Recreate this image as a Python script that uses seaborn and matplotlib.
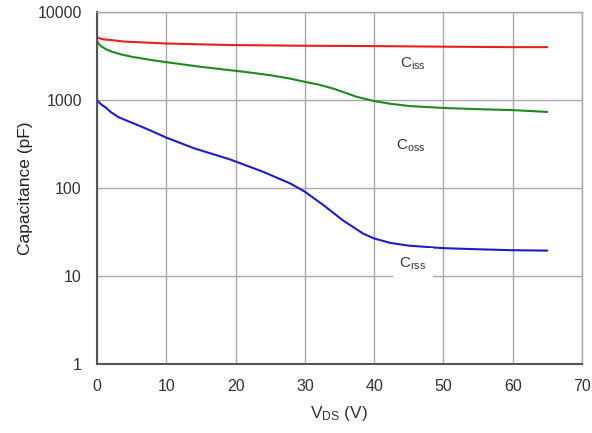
import matplotlib
matplotlib.use("Agg")
import matplotlib.pyplot as plt
import seaborn as sns
import pandas as pd

v_iss = [0, 0.5, 1, 2.2, 4, 7.9, 10, 15, 20, 30, 40, 50, 60, 65]
c_iss = [5150, 5000, 4900, 4800, 4620, 4480, 4400, 4300, 4220, 4150, 4110, 4050, 4000, 4000]

v_oss = [0, 0.3, 0.7, 1.3, 2.2, 3.5, 5.1, 7.9, 10, 14.8, 21.4, 25, 27.8, 30, 32, 34, 36, 37.5, 39.9, 42.3, 45.2, 50, 55, 60, 65]
c_oss = [4700, 4300, 4040, 3780, 3540, 3300, 3100, 2850, 2700, 2400, 2090, 1920, 1760, 1615, 1500, 1360, 1200, 1090, 980, 910, 855, 815, 790, 770, 735]

v_rss = [0, 0.3, 0.7, 1.2, 2, 3.1, 4.5, 5.5, 7.9, 10, 14.1, 19.2, 24, 27.9, 30, 32.7, 35.5, 38.4, 40, 42.3, 45, 50, 55, 60, 65]
c_rss = [1000, 940, 880, 830, 730, 640, 575, 535, 445, 375, 282, 212, 153, 113, 91, 64, 43, 30.5, 26.8, 23.9, 22.2, 20.8, 20.2, 19.7, 19.5]

x_ticks = [0, 10, 20, 30, 40, 50, 60, 70]
y_ticks = [1, 10, 100, 1000, 10000]
y_tick_labels = ["1", "10", "100", "1000", "10000"]

sns.set_style("white")
plt.rcParams["font.family"] = ["Liberation Sans", "DejaVu Sans"]
plt.rcParams["mathtext.fontset"] = "custom"
plt.rcParams["mathtext.rm"] = "Liberation Sans"
plt.rcParams["mathtext.it"] = "Liberation Sans"

fig = plt.figure(figsize=(5.92, 4.33), dpi=100)
ax = fig.add_axes([0.164, 0.159, 0.819, 0.813])

df_iss = pd.DataFrame({"V": v_iss, "C": c_iss})
df_oss = pd.DataFrame({"V": v_oss, "C": c_oss})
df_rss = pd.DataFrame({"V": v_rss, "C": c_rss})

sns.lineplot(data=df_iss, x="V", y="C", ax=ax, color="#e8201c", lw=1.5)
sns.lineplot(data=df_oss, x="V", y="C", ax=ax, color="#1e8a1e", lw=1.5)
sns.lineplot(data=df_rss, x="V", y="C", ax=ax, color="#1c1cc8", lw=1.5)

ax.set_yscale("log")
ax.set_xlim(0, 70)
ax.set_ylim(1, 10000)
ax.set_xticks(x_ticks)
ax.set_yticks(y_ticks)
ax.set_yticklabels(y_tick_labels)
ax.minorticks_off()
ax.grid(True, color="#a8a8a8", lw=1.0)
ax.set_axisbelow(True)
for s in ["top", "right"]:
    ax.spines[s].set_color("#a8a8a8")
    ax.spines[s].set_linewidth(1.0)
for s in ["left", "bottom"]:
    ax.spines[s].set_color("#555555")
    ax.spines[s].set_linewidth(1.5)
ax.tick_params(length=0, pad=11, labelsize=11.5, labelcolor="#333333")

ax.set_xlabel("V$_{\\rm DS}$ (V)", fontsize=12.5, color="#333333", labelpad=7)
ax.set_ylabel("Capacitance (pF)", fontsize=12.5, color="#222222", labelpad=3)

ax.text(45.6, 2600, "C$_{\\rm iss}$", fontsize=11, color="#333333", ha="center", va="center")
ax.text(45.3, 306, "C$_{\\rm oss}$", fontsize=11, color="#333333", ha="center", va="center")
ax.text(45.6, 13.9, "C$_{\\rm rss}$", fontsize=11, color="#333333", ha="center", va="center",
        bbox=dict(facecolor="white", edgecolor="none", pad=5))

fig.savefig("out.png", dpi=100)
